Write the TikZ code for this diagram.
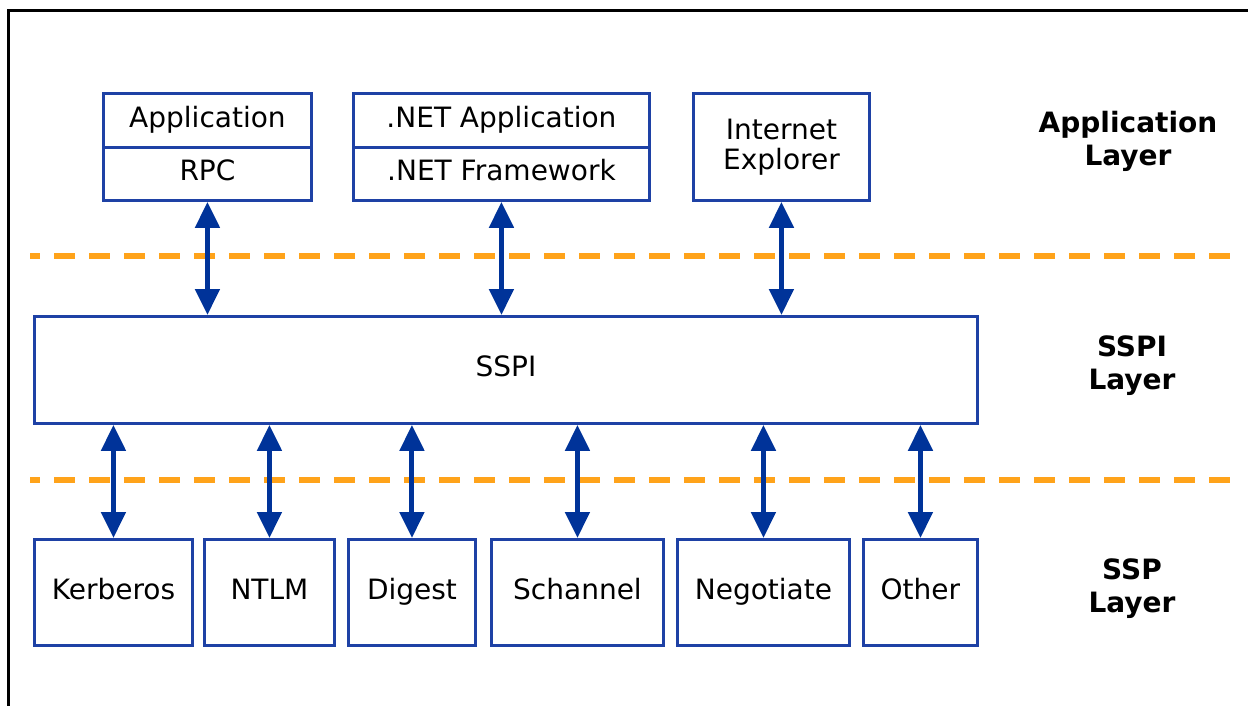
\documentclass[tikz,border=0pt]{standalone}
\usepackage{fontspec}
\setmainfont{DejaVu Sans}
\usetikzlibrary{arrows.meta}
\definecolor{boxblue}{RGB}{30,65,165}
\definecolor{arrblue}{RGB}{0,51,153}
\definecolor{dashorange}{RGB}{255,163,26}
\begin{document}
\begin{tikzpicture}[x=1pt,y=-1pt,
  boxbase/.style={draw=boxblue,line width=2.9pt,rectangle,anchor=north west,inner sep=0pt,
    font=\fontsize{28}{32}\selectfont,align=center},
  box/.style={boxbase,text height=20pt,text depth=6pt},
  arr/.style={draw=arrblue,line width=5pt,{Triangle[width=24pt,length=26pt]}-{Triangle[width=24pt,length=26pt]}},
  sep/.style={draw=dashorange,line width=5.5pt,dash pattern=on 21pt off 14pt,dash phase=11pt},
  layer/.style={font=\bfseries\fontsize{28}{33}\selectfont,align=center}]
\useasboundingbox (0,0) rectangle (1248,706);
% frame
\draw[line width=3pt] (8,706) -- (8,11) -- (1248,11);
% top layer boxes
\node[box,minimum width=208pt,minimum height=54pt] (app) at (102,92) {Application};
\node[box,minimum width=208pt,minimum height=53pt] (rpc) at (102,146) {RPC};
\node[box,minimum width=296pt,minimum height=54pt] (netapp) at (352,92) {.NET Application};
\node[box,minimum width=296pt,minimum height=53pt] (netfw) at (352,146) {.NET Framework};
\node[boxbase,minimum width=176pt,minimum height=107pt] (ie) at (692,92) {Internet\\[-2pt]Explorer};
% SSPI
\node[box,minimum width=943pt,minimum height=107pt] (sspi) at (33,315) {SSPI};
% SSP boxes
\node[box,minimum width=158pt,minimum height=106pt] (kerb) at (33,538) {Kerberos};
\node[box,minimum width=130pt,minimum height=106pt] (ntlm) at (203,538) {NTLM};
\node[box,minimum width=127pt,minimum height=106pt] (dig) at (347,538) {Digest};
\node[box,minimum width=172pt,minimum height=106pt] (sch) at (490,538) {Schannel};
\node[box,minimum width=172pt,minimum height=106pt] (neg) at (676,538) {Negotiate};
\node[box,minimum width=114pt,minimum height=106pt] (oth) at (862,538) {Other};
% separators
\coordinate (s1a) at (30,256); \coordinate (s1b) at (1230,256);
\coordinate (s2a) at (30,480); \coordinate (s2b) at (1230,480);
\draw[sep] (s1a) -- (s1b);
\draw[sep] (s2a) -- (s2b);
% arrows
\draw[arr] (rpc.south) -- (rpc.south |- sspi.north);
\draw[arr] (netfw.south) -- (netfw.south |- sspi.north);
\draw[arr] (ie.south) -- (ie.south |- sspi.north);
\foreach \n in {kerb,ntlm,dig,sch,neg,oth}
  \draw[arr] (sspi.south -| \n.north) -- (\n.north);
% layer labels
\node[layer] (l1) at (1128,141) {Application\\Layer};
\node[layer] (l2) at (1132,366) {SSPI\\Layer};
\node[layer] (l3) at (1132,589) {SSP\\Layer};
\end{tikzpicture}
\end{document}
